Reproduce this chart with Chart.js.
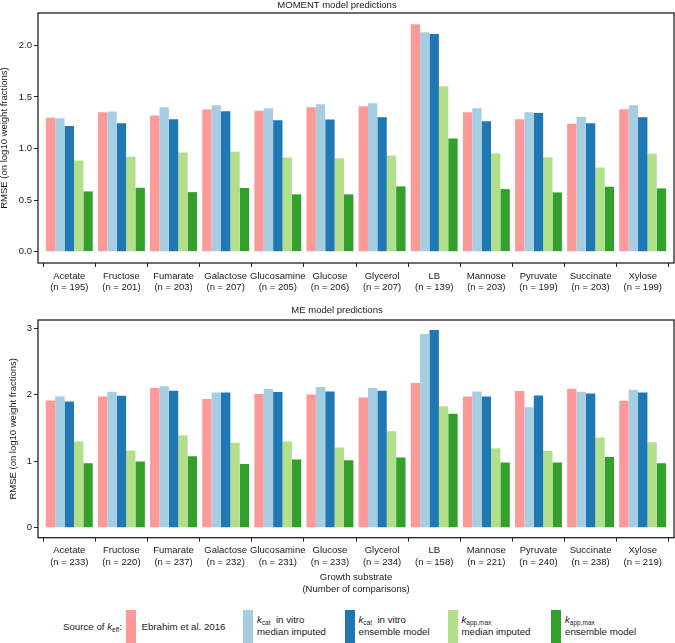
<!DOCTYPE html>
<html>
<head>
<meta charset="utf-8">
<script src="https://cdn.jsdelivr.net/npm/chart.js@4.4.1/dist/chart.umd.min.js"></script>
<style>
  body { margin: 0; background: #fff; font-family: 'Liberation Sans', Arial, sans-serif; color: #1a1a1a; }
  #wrap { position: relative; width: 675px; height: 643px; overflow: hidden; }
  canvas { position: absolute; left: 0; }
  .key { position: absolute; top: 610px; width: 9.7px; height: 33px; }
  .lt { position: absolute; font-size: 9.7px; line-height: 11.4px; white-space: nowrap; }
  .lt sub { font-size: 6.5px; vertical-align: -2px; line-height: 0; }
</style>
</head>
<body>
<div id="wrap">
  <canvas id="top" width="675" height="300" style="top:0"></canvas>
  <canvas id="bottom" width="675" height="300" style="top:297px"></canvas>

  <div class="lt" style="left:63px; top:620.5px;">Source of <i>k</i><sub>eff</sub>:</div>
  <div class="key" style="left:126px; background:#fb9a99"></div>
  <div class="lt" style="left:141.5px; top:620.5px;">Ebrahim et al. 2016</div>
  <div class="key" style="left:243px; background:#a6cee3"></div>
  <div class="lt" style="left:257px; top:614.3px;"><i>k</i><sub>cat</sub>&nbsp; in vitro<br>median imputed</div>
  <div class="key" style="left:345px; background:#1f78b4"></div>
  <div class="lt" style="left:358.5px; top:614.3px;"><i>k</i><sub>cat</sub>&nbsp; in vitro<br>ensemble model</div>
  <div class="key" style="left:448px; background:#b2df8a"></div>
  <div class="lt" style="left:461.5px; top:614.3px;"><i>k</i><sub>app,max</sub><br>median imputed</div>
  <div class="key" style="left:551px; background:#33a02c"></div>
  <div class="lt" style="left:565px; top:614.3px;"><i>k</i><sub>app,max</sub><br>ensemble model</div>
</div>

<script>
const categories = ['Acetate', 'Fructose', 'Fumarate', 'Galactose', 'Glucosamine', 'Glucose',
                    'Glycerol', 'LB', 'Mannose', 'Pyruvate', 'Succinate', 'Xylose'];

// MOMENT model
const momentN          = [195, 201, 203, 207, 205, 206, 207, 139, 203, 199, 203, 199];
const momentEbrahim    = [1.297, 1.352, 1.319, 1.377, 1.365, 1.400, 1.410, 2.203, 1.352, 1.284, 1.239, 1.381];
const momentKcatMedian = [1.294, 1.358, 1.400, 1.419, 1.390, 1.429, 1.439, 2.126, 1.390, 1.352, 1.306, 1.419];
const momentKcatEns    = [1.219, 1.245, 1.284, 1.361, 1.274, 1.281, 1.303, 2.110, 1.265, 1.345, 1.245, 1.303];
const momentAppMedian  = [0.884, 0.919, 0.961, 0.968, 0.913, 0.906, 0.932, 1.603, 0.952, 0.916, 0.816, 0.952];
const momentAppEns     = [0.584, 0.619, 0.577, 0.617, 0.555, 0.555, 0.632, 1.097, 0.606, 0.574, 0.629, 0.613];
const momentTicks      = [0, 0.5, 1, 1.5, 2];

// ME model
const meN              = [233, 220, 237, 232, 231, 233, 234, 158, 221, 240, 238, 219];
const meEbrahim        = [1.915, 1.975, 2.100, 1.935, 2.010, 2.005, 1.960, 2.176, 1.975, 2.055, 2.090, 1.910];
const meKcatMedian     = [1.975, 2.045, 2.126, 2.035, 2.085, 2.116, 2.100, 2.915, 2.050, 1.814, 2.045, 2.075];
const meKcatEns        = [1.900, 1.985, 2.060, 2.035, 2.040, 2.050, 2.060, 2.975, 1.975, 1.990, 2.020, 2.035];
const meAppMedian      = [1.296, 1.161, 1.392, 1.278, 1.296, 1.206, 1.452, 1.829, 1.196, 1.156, 1.357, 1.286];
const meAppEns         = [0.970, 0.995, 1.075, 0.958, 1.027, 1.015, 1.055, 1.714, 0.980, 0.980, 1.065, 0.970];
const meTicks          = [0, 1, 2, 3];

const colors = ['#fb9a99', '#a6cee3', '#1f78b4', '#b2df8a', '#33a02c'];
const FONT = "'Liberation Sans', Arial, sans-serif";
const INK = '#1a1a1a';

// full box around the plot panel
const frame = {
  id: 'frame',
  afterDraw(chart) {
    const a = chart.chartArea, c = chart.ctx;
    c.save();
    c.strokeStyle = '#222';
    c.lineWidth = 1.3;
    c.strokeRect(a.left, a.top, a.right - a.left, a.bottom - a.top);
    c.restore();
  },
};

function makeChart(id, o) {
  const series = [o.ebrahim, o.kcatMedian, o.kcatEns, o.appMedian, o.appEns];
  const pad = 0.05 * Math.max(...series.flat());

  return new Chart(document.getElementById(id), {
    type: 'bar',
    data: {
      datasets: series.map((s, k) => ({
        data: s.map((v, i) => ({ x: i, y: v })),
        backgroundColor: colors[k],
        borderWidth: 0,
        categoryPercentage: 0.9,
        barPercentage: 1,
      })),
    },
    options: {
      responsive: false,
      animation: false,
      devicePixelRatio: 1,
      layout: { padding: { left: 0, right: 1, top: 0, bottom: 0 } },
      plugins: {
        legend: { display: false },
        tooltip: { enabled: false },
        title: {
          display: true,
          text: o.title,
          color: INK,
          font: { size: 9.5, family: FONT, weight: 'normal', lineHeight: 1.2 },
          padding: o.titlePad,
        },
      },
      scales: {
        x: {
          type: 'linear',
          offset: false,
          min: -0.6,
          max: categories.length - 0.4,
          afterBuildTicks(scale) { scale.ticks = categories.map((c, i) => ({ value: i })); },
          afterFit(scale) { scale.height = o.xHeight; },
          grid: { drawOnChartArea: false, drawTicks: true, tickLength: 4, color: '#222', lineWidth: 1 },
          border: { display: false },
          ticks: {
            color: INK,
            padding: 3,
            maxRotation: 0,
            autoSkip: false,
            font: { size: 9.5, family: FONT, lineHeight: 1.25 },
            callback: v => [categories[v], '(n = ' + o.n[v] + ')'],
          },
          title: o.xTitle ? {
            display: true,
            text: o.xTitle,
            color: INK,
            font: { size: 9.5, family: FONT, lineHeight: 1.3 },
            padding: { top: 0, bottom: 1 },
          } : { display: false },
        },
        y: {
          min: -pad,
          max: Math.max(...series.flat()) + pad,
          afterBuildTicks(scale) { scale.ticks = o.ticks.map(v => ({ value: v })); },
          afterFit(scale) { scale.width = 38; },
          grid: { drawOnChartArea: false, drawTicks: true, tickLength: 4, color: '#222', lineWidth: 1 },
          border: { display: false },
          ticks: {
            color: INK,
            padding: 2,
            font: { size: 9.5, family: FONT },
            callback: v => v.toFixed(o.decimals),
          },
          title: {
            display: true,
            text: 'RMSE (on log10 weight fractions)',
            color: INK,
            font: { size: 9.5, family: FONT, lineHeight: 1.2 },
            padding: { top: o.yTitleTop, bottom: 0 },
          },
        },
      },
    },
    plugins: [frame],
  });
}

makeChart('top', {
  title: 'MOMENT model predictions',
  titlePad: { top: 0, bottom: 1.6 },
  n: momentN,
  ebrahim: momentEbrahim, kcatMedian: momentKcatMedian, kcatEns: momentKcatEns,
  appMedian: momentAppMedian, appEns: momentAppEns,
  ticks: momentTicks, decimals: 1,
  xHeight: 37,
  yTitleTop: -1,
});

makeChart('bottom', {
  title: 'ME model predictions',
  titlePad: { top: 8, bottom: 3.6 },
  n: meN,
  ebrahim: meEbrahim, kcatMedian: meKcatMedian, kcatEns: meKcatEns,
  appMedian: meAppMedian, appEns: meAppEns,
  ticks: meTicks, decimals: 0,
  xHeight: 59.3,
  xTitle: ['Growth substrate', '(Number of comparisons)'],
  yTitleTop: 8,
});
</script>
</body>
</html>
